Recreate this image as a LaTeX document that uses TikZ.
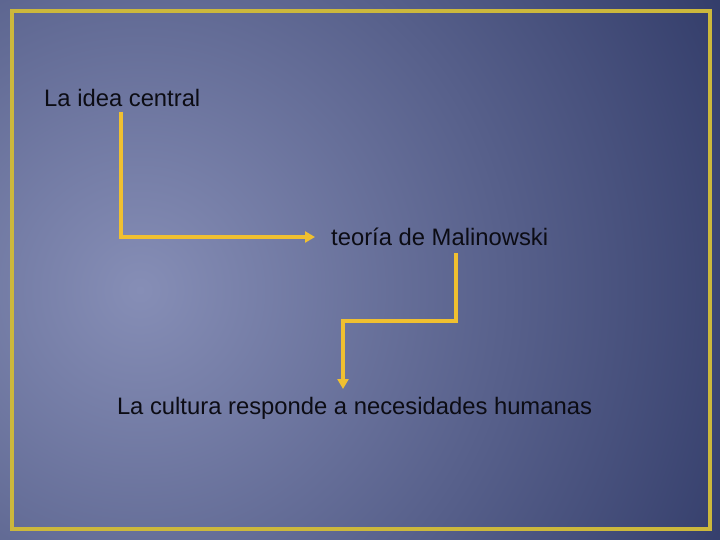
\documentclass[tikz,border=0pt]{standalone}
\usepackage{fontspec}
\setmainfont{Liberation Sans}
\usetikzlibrary{arrows.meta}
\definecolor{bgdark}{RGB}{40,50,96}
\definecolor{bglight}{RGB}{134,142,182}
\definecolor{frame}{RGB}{204,184,60}
\definecolor{arrowc}{RGB}{240,192,48}
\definecolor{txt}{RGB}{12,12,20}
\tikzset{
  lbl/.style={text=txt, font=\fontsize{23.8}{28}\selectfont, inner sep=0pt},
  conn/.style={draw=arrowc, line width=3.5pt, -{Triangle[length=10pt,width=11pt]}},
}
\begin{document}
\begin{tikzpicture}[x=1pt,y=-1pt]
\useasboundingbox (0,0) rectangle (720,540);
\fill[bgdark] (0,0) rectangle (720,540);
\begin{scope}
\clip (0,0) rectangle (720,540);
\shade[inner color=bglight, outer color=bgdark] (140,290) circle (740);
\end{scope}
\draw[frame, line width=3.5pt] (12,11) rectangle (710,529);
\node[lbl, anchor=west] (a) at (44,98) {La idea central};
\node[lbl, anchor=west] (b) at (331,237) {teoría de Malinowski};
\node[lbl] (c) at (354.5,408) {La cultura responde a necesidades humanas};
\coordinate (a1) at (121,112);
\coordinate (a2) at (315,237);
\coordinate (b1) at (456,253);
\coordinate (c1) at (343,389);
\draw[conn] (a1) |- (a2);
\draw[conn] (b1) -- (456,321) -| (c1);
\end{tikzpicture}
\end{document}
